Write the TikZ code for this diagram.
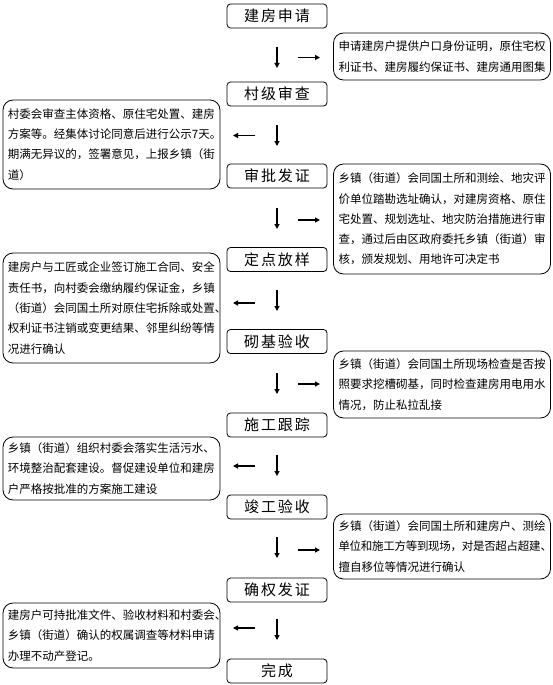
\documentclass[tikz,border=0pt]{standalone}
\usepackage{fontspec}
\setmainfont{Noto Sans CJK SC}
\newfontfamily\cjk{Noto Sans CJK SC}
\newfontfamily\cjkt[LetterSpace=13]{Noto Sans CJK SC}
\usetikzlibrary{arrows.meta}
\tikzset{
  mainbox/.style={draw, line width=0.8pt, rounded corners=3.5pt, minimum width=100pt,
    minimum height=24pt, inner sep=0pt, font=\cjkt\fontsize{15}{18}\selectfont},
  sidebox/.style={draw, line width=0.8pt, rounded corners=10pt, inner xsep=5pt, inner ysep=0pt,
    text width=207pt, align=left, font=\cjk\fontsize{11.5}{20.3}\selectfont},
  flowarrow/.style={line width=1.6pt, -{Triangle[length=5pt,width=5pt]}}
}
\begin{document}
\begin{tikzpicture}[x=1pt,y=-1pt]
\useasboundingbox[fill=white] (0,0) rectangle (553,685);
% main steps
\node[mainbox] (s1) at (277,16) {建房申请};
\node[mainbox] (s2) at (277,94) {村级审查};
\node[mainbox] (s3) at (277,176) {审批发证};
\node[mainbox] (s4) at (277,259.5) {定点放样};
\node[mainbox] (s5) at (277,341.5) {砌基验收};
\node[mainbox] (s6) at (277,425) {施工跟踪};
\node[mainbox] (s7) at (277,507) {竣工验收};
\node[mainbox] (s8) at (277,590) {确权发证};
\node[mainbox] (s9) at (277,671) {完成};
% side notes
\node[sidebox, minimum height=47pt] (r1) at (442,56.5)
  {申请建房户提供户口身份证明，原住宅权\\利证书、建房履约保证书、建房通用图集};
\node[sidebox, minimum height=89pt] (l1) at (111.5,144.5)
  {村委会审查主体资格、原住宅处置、建房\\方案等。经集体讨论同意后进行公示7天。\\期满无异议的，签署意见，上报乡镇（街\\道）};
\node[sidebox, minimum height=110pt] (r2) at (442,219)
  {乡镇（街道）会同国土所和测绘、地灾评\\价单位踏勘选址确认，对建房资格、原住\\宅处置、规划选址、地灾防治措施进行审\\查，通过后由区政府委托乡镇（街道）审\\核，颁发规划、用地许可决定书};
\node[sidebox, minimum height=110pt] (l2) at (111.5,308)
  {建房户与工匠或企业签订施工合同、安全\\责任书，向村委会缴纳履约保证金，乡镇\\（街道）会同国土所对原住宅拆除或处置\makebox[0pt][l]{、}\\权利证书注销或变更结果、邻里纠纷等情\\况进行确认};
\node[sidebox, minimum height=67pt] (r3) at (442,384.5)
  {乡镇（街道）会同国土所现场检查是否按\\照要求挖槽砌基，同时检查建房用电用水\\情况，防止私拉乱接};
\node[sidebox, minimum height=63pt] (l3) at (111.5,468.5)
  {乡镇（街道）组织村委会落实生活污水、\\环境整治配套建设。督促建设单位和建房\\户严格按批准的方案施工建设};
\node[sidebox, minimum height=65pt] (r4) at (442,546.5)
  {乡镇（街道）会同国土所和建房户、测绘\\{\addfontfeature{LetterSpace=-2.5}单位和施工方等到现场，对是否超占超建\makebox[0pt][l]{、}}\\擅自移位等情况进行确认};
\node[sidebox, minimum height=65pt] (l4) at (111.5,635.5)
  {建房户可持批准文件、验收材料和村委会\makebox[0pt][l]{、}\\乡镇（街道）确认的权属调查等材料申请\\办理不动产登记。};
% arrow end points
\coordinate (d1a) at (277,47);  \coordinate (d1b) at (277,68);
\coordinate (h1a) at (298,57.5); \coordinate (h1b) at (320,57.5);
\coordinate (d2a) at (277,125); \coordinate (d2b) at (277,146);
\coordinate (h2a) at (255,135.5); \coordinate (h2b) at (233,135.5);
\coordinate (d3a) at (277,208); \coordinate (d3b) at (277,229);
\coordinate (h3a) at (298,220); \coordinate (h3b) at (320,220);
\coordinate (d4a) at (277,290); \coordinate (d4b) at (277,311);
\coordinate (h4a) at (255,303); \coordinate (h4b) at (233,303);
\coordinate (d5a) at (277,373); \coordinate (d5b) at (277,394);
\coordinate (h5a) at (298,384); \coordinate (h5b) at (320,384);
\coordinate (d6a) at (277,455); \coordinate (d6b) at (277,476);
\coordinate (h6a) at (255,466); \coordinate (h6b) at (233,466);
\coordinate (d7a) at (277,537); \coordinate (d7b) at (277,558);
\coordinate (h7a) at (298,550); \coordinate (h7b) at (320,550);
\coordinate (d8a) at (277,619); \coordinate (d8b) at (277,640);
\coordinate (h8a) at (255,628); \coordinate (h8b) at (233,628);
\foreach \i in {1,...,8} {
  \draw[flowarrow] (d\i a) -- (d\i b);
  \draw[flowarrow] (h\i a) -- (h\i b);
}
\end{tikzpicture}
\end{document}
